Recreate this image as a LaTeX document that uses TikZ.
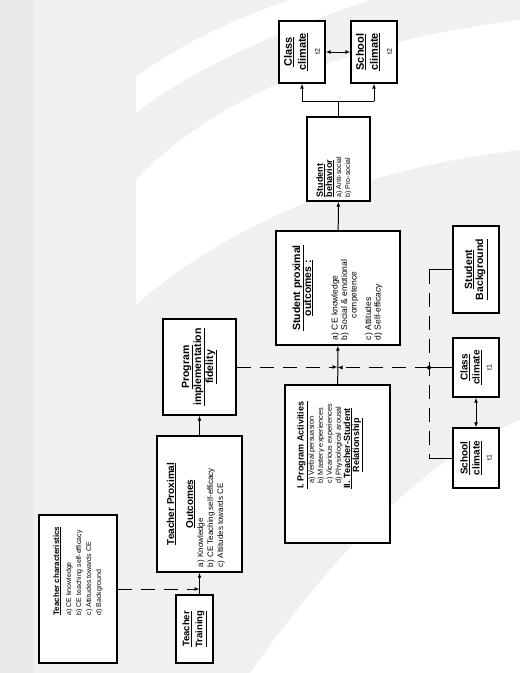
\documentclass[tikz,border=0pt]{standalone}
\usepackage{fontspec}
\setmainfont{Liberation Sans}
\usetikzlibrary{arrows.meta}
\definecolor{bggray}{RGB}{240,240,240}
\definecolor{stripgray}{RGB}{233,233,233}
\newcommand{\boxtitle}[1]{\underline{\textbf{#1}}}
\newcommand{\fsz}[2]{\fontsize{#1}{#2}\selectfont}
\tikzset{
  box/.style={draw, line width=1.4pt, fill=white, inner sep=0pt, align=center, font=\fsz{7}{9.5}},
  wire/.style={line width=1pt},
  link/.style={wire, -{Latex[length=5pt,width=4pt]}},
  twoway/.style={wire, {Latex[length=5pt,width=4pt]}-{Latex[length=5pt,width=4pt]}},
  dashwire/.style={wire, dash pattern=on 14pt off 9pt},
  dlink/.style={link, dash pattern=on 14pt off 9pt}
}
\begin{document}
\begin{tikzpicture}[x=1pt,y=1pt]
\useasboundingbox (0,0) rectangle (520,-673);
\fill[bggray] (0,0) rectangle (520,-673);
\fill[stripgray] (0,0) rectangle (33,-673);
\fill[white] (136,-77) .. controls (180,-45) and (230,-20) .. (290,0) -- (370,0)
  .. controls (280,-30) and (190,-70) .. (136,-113) -- cycle;
\fill[white] (136,-180) .. controls (210,-100) and (350,-40) .. (520,-20) -- (520,-150)
  .. controls (350,-170) and (220,-230) .. (136,-305) -- cycle;
\fill[white] (250,-673) .. controls (330,-560) and (420,-460) .. (520,-420) -- (520,-673) -- cycle;
\begin{scope}[shift={(520,-673)}, rotate=90, transform shape]
\node[box, minimum width=148pt, minimum height=78pt, font=\fsz{7}{10}] (tchar) at (84,442) {%
\begin{tabular}{@{\hspace{36pt}}l@{}}
{\fsz{8}{10}\boxtitle{Teacher characteristics}}\\[2pt]
a) CE knowledge\\
b) CE teaching self-efficacy\\
c) Attitudes towards CE\\
d) Background
\end{tabular}};
\node[box, minimum width=68pt, minimum height=37pt, font=\fsz{9.5}{13}\bfseries] (train) at (44,325.5)
  {\underline{Teacher}\\\underline{Training}};
\node[box, minimum width=136pt, minimum height=85pt, font=\fsz{8}{10}] (tpo) at (169,320.5) {%
\begin{tabular}{@{}l@{}}
\makebox[126pt]{\fsz{10}{12}\boxtitle{Teacher Proximal}}\\[9pt]
\makebox[126pt]{\fsz{10}{12}\boxtitle{Outcomes}}\\
a) Knowledge\\
b) CE Teaching self-efficacy\\
c) Attitudes towards CE\\[6pt]
\end{tabular}};
\node[box, minimum width=96pt, minimum height=73pt, font=\fsz{10.5}{12}\bfseries] (pif) at (306,320.5)
  {\underline{Program}\\\underline{implementation}\\\underline{fidelity}};
\node[box, minimum width=158pt, minimum height=105pt, font=\fsz{7.3}{9}] (pa) at (209,182.5) {%
\begin{tabular}{@{\hspace{38pt}}l@{}}
{\fsz{9}{10}\boxtitle{I. Program Activities}}\\
\hspace{5pt}a) Verbal persuasion\\
\hspace{5pt}b) Mastery experiences\\
\hspace{5pt}c) Vicarious experiences\\
\hspace{5pt}d) Physiological arousal\\
{\fsz{9}{10}\boxtitle{II. Teacher-Student}}\\
\multicolumn{1}{@{\hspace{38pt}}c@{}}{\fsz{9}{10}\boxtitle{Relationship}}\\[16pt]
\end{tabular}};
\node[box, minimum width=114pt, minimum height=124pt, font=\fsz{8.5}{9.5}] (spo) at (385,182) {%
\begin{tabular}{@{}l@{}}
\makebox[104pt]{\fsz{10.5}{11}\boxtitle{Student proximal}}\\
\makebox[104pt]{\fsz{10.5}{11}\boxtitle{outcomes :}}\\[17pt]
a) CE knowledge\\
b) Social \& emotional\\
\hspace{22pt}competence\\[5pt]
c) Attitudes\\
d) Self-efficacy
\end{tabular}};
\node[box, minimum width=84pt, minimum height=63pt, font=\fsz{7}{9}] (sb) at (514,181.5) {%
\begin{tabular}{@{}l@{\hspace{36pt}}}
{\fsz{9}{10}\boxtitle{Student}}\\
{\fsz{9}{10}\boxtitle{behavior}}\\
a) Anti-social\\
b) Pro-social\\[8pt]
\end{tabular}};
\node[box, minimum width=62pt, minimum height=46pt, font=\fsz{11}{14}\bfseries] (cc2) at (621,218)
  {\underline{Class}\\\underline{climate}\\{\fsz{7}{9}\mdseries t2}};
\node[box, minimum width=62pt, minimum height=46pt, font=\fsz{11}{14}\bfseries] (sc2) at (621,146)
  {\underline{School}\\\underline{climate}\\{\fsz{7}{9}\mdseries t2}};
\node[box, minimum width=59pt, minimum height=46pt, font=\fsz{10}{12}\bfseries] (cc1) at (305.5,44)
  {\underline{Class}\\\underline{climate}\\{\fsz{7}{9}\mdseries t1}};
\node[box, minimum width=60pt, minimum height=46pt, font=\fsz{10}{12}\bfseries] (sc1) at (215,44)
  {\underline{School}\\\underline{climate}\\{\fsz{7}{9}\mdseries t1}};
\node[box, minimum width=87pt, minimum height=46pt, font=\fsz{10.5}{11}\bfseries] (bg) at (403.5,44)
  {\underline{Student}\\\underline{Background}};

\draw[link] (train.east |- tpo.west) -- (tpo.west);
\draw[dlink] (tchar.south) -- (tchar.south |- tpo.west);
\draw[link] (tpo) -- (pif);
\draw[link] (pa) -- (spo);
\draw[dlink] (pif.south) -- (pif.south |- pa.east);
\coordinate (jn) at (cc1.north |- 0,91);
\coordinate (bgtop) at (bg.north |- jn);
\coordinate (sctop) at (sc1.north |- jn);
\draw[dlink] (jn) -- (jn |- pa.east);
\draw[wire] (cc1.north) -- (jn);
\draw[wire] (bg.north) -- (bgtop);
\draw[wire] (sc1.north) -- (sctop);
\draw[dashwire] (bgtop) -- (sctop);
\fill (jn) circle (2pt);
\draw[twoway] (sc1) -- (cc1);
\draw[link] (spo) -- (sb);
\draw[wire] (sb.east) -- ++(15,0) coordinate (br);
\draw[wire] (br |- cc2.west) -- (br |- sc2.west);
\draw[link] (br |- cc2.west) -- (cc2.west);
\draw[link] (br |- sc2.west) -- (sc2.west);
\draw[twoway] (sc2) -- (cc2);
\end{scope}
\end{tikzpicture}
\end{document}
